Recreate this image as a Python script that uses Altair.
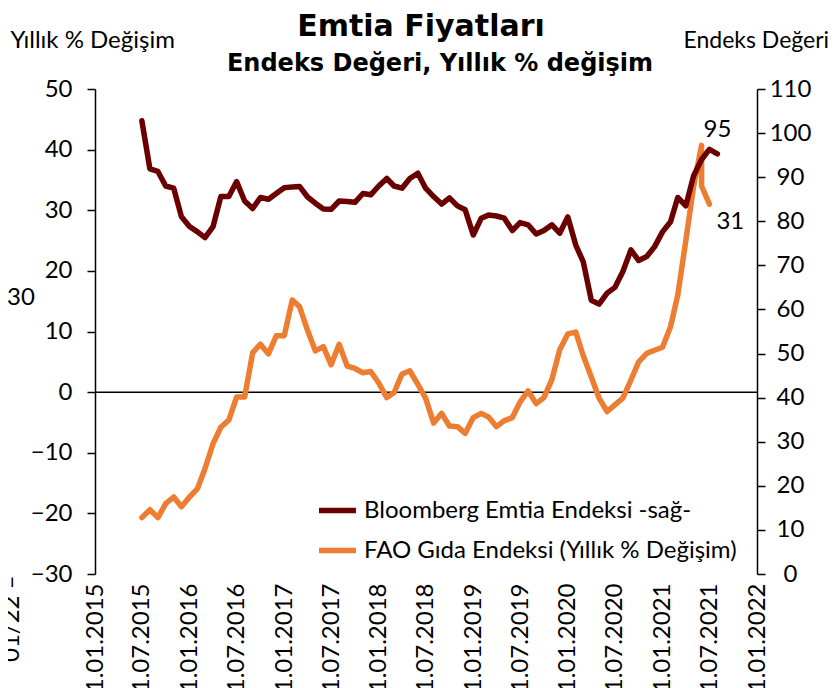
import altair as alt
import pandas as pd

BBG = "Bloomberg Emtia Endeksi -sağ-"
FAO = "FAO Gıda Endeksi (Yıllık % Değişim)"
DARK = "#6b0000"
ORANGE = "#ed7d31"
FONT = "Lato"
FS = 24

# Bloomberg commodity index level (right axis), monthly from 2015-07
bbg_values = [
    102.8, 91.9, 91.3, 88.0, 87.5, 81.0, 78.8, 77.6, 76.3, 78.8, 85.6, 85.6,
    89.0, 84.6, 82.9, 85.4, 85.0, 86.3, 87.6, 87.8, 87.9, 85.5, 84.1, 82.8,
    82.7, 84.6, 84.5, 84.3, 86.3, 86.0, 88.0, 89.7, 88.0, 87.5, 89.7, 90.9,
    87.5, 85.6, 83.9, 85.3, 83.5, 82.6, 76.9, 80.7, 81.4, 81.2, 80.7, 77.9,
    79.7, 79.2, 77.1, 77.9, 79.2, 77.3, 81.0, 74.6, 70.8, 62.1, 61.2, 63.7,
    65.0, 68.6, 73.5, 71.1, 72.0, 74.2, 77.6, 79.9, 85.4, 83.5, 90.3, 94.0,
    96.3, 95.3,
]

# FAO food price index, annual % change (left axis), monthly from 2015-07
fao_values = [
    -20.7, -19.4, -20.7, -18.4, -17.3, -18.9, -17.3, -15.9, -12.6, -8.5, -5.8, -4.6,
    -0.8, -0.8, 6.5, 7.9, 6.3, 9.3, 9.3, 15.2, 14.1, 10.2, 6.8, 7.5,
    4.5, 7.9, 4.3, 3.9, 3.2, 3.4, 1.5, -0.9, -0.1, 3.0, 3.5, 1.3,
    -1.0, -5.1, -3.5, -5.6, -5.7, -6.8, -4.2, -3.5, -4.1, -5.7, -4.7, -4.2,
    -1.6, 0.2, -1.9, -0.9, 2.1, 7.0, 9.6, 9.9, 6.0, 2.5, -1.0, -3.2,
    -2.1, -1.0, 2.0, 5.0, 6.4, 6.9, 7.4, 10.8, 16.0, 25.0, 33.9, 40.7,
    34.0, 31.0,
]

bbg_dates = [d.strftime("%Y-%m-%d") for d in pd.date_range("2015-07-01", periods=len(bbg_values), freq="MS")]
fao_dates = [d.strftime("%Y-%m-%d") for d in pd.date_range("2015-07-01", "2021-07-01", freq="MS")]
# two readings are drawn at June 2021 in the source chart
fao_dates.insert(fao_dates.index("2021-06-01") + 1, "2021-06-01")

tick_dates = [d for d in pd.date_range("2015-01-01", "2022-01-01", freq="6MS")]
left_ticks = list(range(-30, 51, 10))
right_ticks = list(range(0, 111, 10))

bbg_df = pd.DataFrame({"date": bbg_dates, "value": bbg_values, "series": BBG, "order": range(len(bbg_values))})
fao_df = pd.DataFrame({"date": fao_dates, "value": fao_values, "series": FAO, "order": range(len(fao_values))})
zero_df = pd.DataFrame({"value": [0]})


def dt(ts):
    return alt.DateTime(year=ts.year, month=ts.month, date=ts.day, utc=True)


x_enc = alt.X(
    "date:T",
    scale=alt.Scale(type="utc", domain=[dt(tick_dates[0]), dt(tick_dates[-1])]),
    axis=alt.Axis(
        values=[dt(t) for t in tick_dates],
        format="%-d.%m.%Y",
        labelAngle=270,
        labelAlign="right",
        labelBaseline="middle",
        ticks=False,
        tickSize=0,
        domain=False,
        labelPadding=9,
        labelFontSize=FS,
        labelFont=FONT,
        labelOverlap=False,
        title=None,
    ),
)

color_enc = alt.Color(
    "series:N",
    scale=alt.Scale(domain=[BBG, FAO], range=[DARK, ORANGE]),
    legend=alt.Legend(
        title=None,
        orient="none",
        legendX=221,
        legendY=400,
        symbolType="stroke",
        symbolStrokeWidth=5.5,
        symbolSize=1369,
        labelFont=FONT,
        labelFontSize=FS,
        labelColor="black",
        labelLimit=500,
        labelOffset=5,
        rowPadding=6,
    ),
)

left_axis = alt.Axis(
    values=left_ticks,
    title="Yıllık % Değişim",
    titleAngle=0,
    titleAlign="left",
    titleBaseline="middle",
    titleX=-85,
    titleY=-49,
    titleFont=FONT,
    titleFontSize=FS,
    titleFontWeight="normal",
    labelFont=FONT,
    labelFontSize=FS,
    labelPadding=15,
    tickSize=8,
    grid=False,
)
left_scale = alt.Scale(domain=[-30, 50], nice=False, zero=False)

right_axis = alt.Axis(
    orient="right",
    values=right_ticks,
    title="Endeks Değeri",
    titleAngle=0,
    titleAlign="left",
    titleBaseline="middle",
    titleX=-74,
    titleY=-49,
    titleFont=FONT,
    titleFontSize=23,
    titleFontWeight="normal",
    labelFont=FONT,
    labelFontSize=FS,
    labelAlign="center",
    labelPadding=25,
    tickSize=8,
    grid=False,
)
right_scale = alt.Scale(domain=[0, 110], nice=False, zero=False)

line_style = dict(strokeWidth=5.5, strokeCap="round", strokeJoin="round")

fao_line = alt.Chart(fao_df).mark_line(**line_style).encode(
    x=x_enc,
    y=alt.Y("value:Q", scale=left_scale, axis=left_axis),
    color=color_enc,
    order="order:Q",
)
zero_rule = alt.Chart(zero_df).mark_rule(color="black", strokeWidth=1.5).encode(
    y=alt.Y("value:Q", scale=left_scale, axis=left_axis)
)
fao_label = alt.Chart(fao_df.iloc[[-1]]).mark_text(
    dx=21, dy=18, font=FONT, fontSize=FS, color="black"
).encode(
    x=x_enc,
    y=alt.Y("value:Q", scale=left_scale, axis=left_axis),
    text=alt.Text("value:Q", format=".0f"),
)

left_group = alt.layer(zero_rule, fao_line, fao_label)

bbg_line = alt.Chart(bbg_df).mark_line(**line_style).encode(
    x=x_enc,
    y=alt.Y("value:Q", scale=right_scale, axis=right_axis),
    color=color_enc,
    order="order:Q",
)
bbg_label = alt.Chart(bbg_df.iloc[[-1]]).mark_text(
    dy=-24, font=FONT, fontSize=FS, color="black"
).encode(
    x=x_enc,
    y=alt.Y("value:Q", scale=right_scale, axis=right_axis),
    text=alt.Text("value:Q", format=".0f"),
)

right_group = alt.layer(bbg_line, bbg_label)

subtitle = alt.Chart(pd.DataFrame({"t": ["Endeks Değeri, Yıllık % değişim"]})).mark_text(
    align="center", baseline="alphabetic", font="DejaVu Sans", fontSize=24, fontWeight="bold", color="black"
).encode(x=alt.value(345), y=alt.value(-18), text="t:N")

# fragments of neighbouring content visible at the left edge of the source image
stray_30 = alt.Chart(pd.DataFrame({"t": ["30"]})).mark_text(
    align="left", baseline="middle", font=FONT, fontSize=FS, color="black"
).encode(x=alt.value(-88), y=alt.value(209), text="t:N")
stray_date = alt.Chart(pd.DataFrame({"t": ["01/22 –"]})).mark_text(
    align="left", baseline="alphabetic", angle=270, font=FONT, fontSize=FS, color="black"
).encode(x=alt.value(-76), y=alt.value(573), text="t:N")

chart = (
    alt.layer(left_group, right_group, subtitle, stray_30, stray_date)
    .resolve_scale(y="independent")
    .properties(
        width=662,
        height=485,
        autosize=alt.AutoSizeParams(type="none"),
        padding={"left": 87, "top": 81, "right": 73, "bottom": 114},
        title=alt.TitleParams(
            "Emtia Fiyatları",
            font="DejaVu Sans",
            fontSize=30,
            fontWeight="bold",
            color="black",
            anchor="middle",
            dx=-5,
            offset=-14,
        ),
    )
    .configure_view(stroke=None)
    .configure_axis(
        domainColor="black",
        domainWidth=1.5,
        tickColor="black",
        tickWidth=1.5,
        labelColor="black",
        titleColor="black",
        grid=False,
    )
)

chart.save("out.html", embed_options={"renderer": "svg", "actions": False})
